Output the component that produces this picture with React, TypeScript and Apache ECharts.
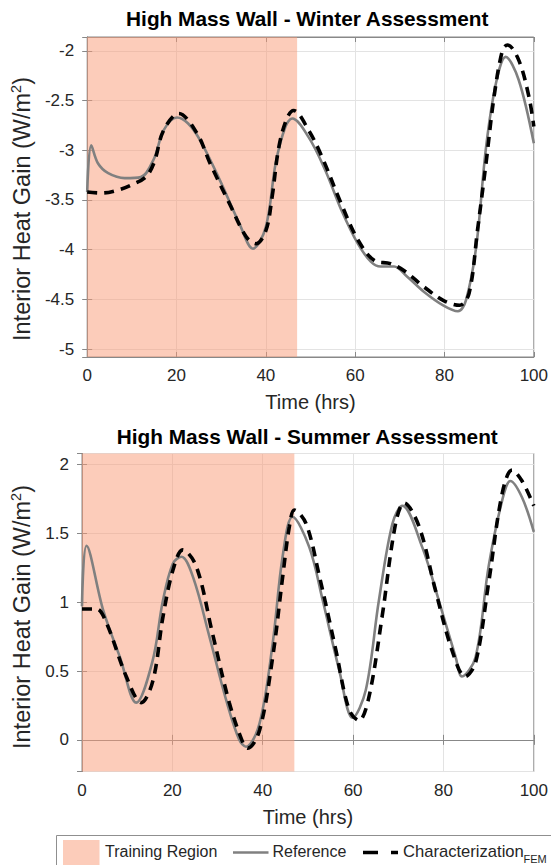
import React, { useEffect, useRef } from "react";
import * as echarts from "echarts";

// ---- Data ----
const winterRefX = [0, 0.9, 2.4, 4.7, 8.4, 12, 15, 17.1, 20.1, 22.6, 25.3, 29.7, 34.1, 37.1, 40, 42.2, 44.4, 45.9, 49.6, 53.3, 56.9, 60.6, 63.5, 65.7, 68.7, 71.6, 75.3, 79.7, 83, 84.8, 87.1, 89.3, 91.5, 93.7, 96.6, 100];
const winterRefY = [-3.42, -2.95, -3.13, -3.23, -3.28, -3.27, -3.08, -2.8, -2.67, -2.73, -2.9, -3.3, -3.74, -3.99, -3.77, -3.13, -2.76, -2.68, -2.87, -3.2, -3.6, -3.94, -4.12, -4.17, -4.17, -4.27, -4.42, -4.56, -4.62, -4.51, -3.97, -2.97, -2.33, -2.06, -2.29, -2.93];

const winterFemX = [0, 3.2, 6.9, 9.8, 13.1, 15, 17.1, 20.5, 24.6, 27.5, 31.9, 35.6, 37.8, 40, 41.4, 42.9, 44.7, 46.2, 49.6, 52.6, 56.9, 60.6, 64.3, 67.9, 70.9, 75.3, 79.7, 83.4, 85.5, 87.4, 89.3, 91.1, 93, 94.1, 96.6, 98.9, 100];
const winterFemY = [-3.42, -3.43, -3.4, -3.35, -3.27, -3.12, -2.8, -2.63, -2.83, -3.13, -3.54, -3.87, -3.94, -3.81, -3.47, -2.97, -2.68, -2.6, -2.8, -3.07, -3.54, -3.9, -4.11, -4.14, -4.21, -4.37, -4.51, -4.56, -4.44, -3.8, -3.13, -2.46, -1.99, -1.94, -2.09, -2.46, -2.76];

const summerRefX = [0, 1.0, 4.7, 8.4, 12, 15.6, 17.9, 20.1, 22, 24.6, 28.2, 31.9, 34.8, 36.3, 39.3, 42.2, 44.4, 46.6, 50.3, 53.3, 56.9, 59.9, 62.8, 65.7, 68.7, 70.9, 75.3, 79, 82.7, 84.1, 87.1, 90, 93, 94.8, 97.4, 100];
const summerRefY = [0.97, 1.41, 0.94, 0.6, 0.27, 0.57, 1.01, 1.28, 1.33, 1.18, 0.75, 0.29, 0.0, -0.05, 0.12, 0.7, 1.33, 1.62, 1.4, 1.01, 0.51, 0.16, 0.36, 1.01, 1.57, 1.7, 1.4, 1.01, 0.6, 0.46, 0.6, 1.26, 1.74, 1.88, 1.76, 1.51];

const summerFemX = [0, 3.2, 5.4, 9.8, 13.1, 15.7, 17.9, 20.1, 22.3, 25.3, 28.9, 32.6, 35.6, 36.7, 39.3, 42.2, 44.4, 45.9, 47, 49.6, 52.6, 56.2, 59.1, 61.3, 63.5, 66.4, 69.4, 71.3, 74.6, 78.2, 81.9, 84.8, 87.1, 90, 93, 95.2, 97.4, 100];
const summerFemY = [0.95, 0.95, 0.85, 0.46, 0.27, 0.43, 0.89, 1.23, 1.38, 1.26, 0.77, 0.27, -0.02, -0.06, 0.07, 0.6, 1.18, 1.55, 1.67, 1.57, 1.18, 0.65, 0.22, 0.14, 0.31, 0.89, 1.57, 1.72, 1.55, 1.09, 0.65, 0.46, 0.56, 1.14, 1.79, 1.96, 1.88, 1.7];

const trainingRegion = [0, 47];
const xRange = [0, 100];
const xInterval = 20;
const winterYRange = [-5.08, -1.86];
const summerYRange = [-0.23, 2.08];

const titles = ["High Mass Wall - Winter Assessment", "High Mass Wall - Summer Assessment"];
const xName = "Time (hrs)";
const legendLabels = ["Training Region", "Reference", "Characterization", "FEM"];

const pairs = (xs: number[], ys: number[]) => xs.map((x, i) => [x, ys[i]]);

const FONT = '"Liberation Sans", Arial, Helvetica, sans-serif';
const AXIS_COLOR = "#888888";
const TEXT_COLOR = "#262626";
const GRID_COLOR = "#e3e3e3";
const REF_COLOR = "#808080";
const FEM_COLOR = "#000000";
const PATCH_COLOR = "rgba(249,153,117,0.5)";

const GRID_LEFT = 82;
const GRID_WIDTH = 453.5;
const GRIDS = [
  { top: 37, height: 320, nameShift: 24 },
  { top: 453.5, height: 318, nameShift: 9 },
];

export default function App() {
  const ref = useRef<HTMLDivElement>(null);

  useEffect(() => {
    if (!ref.current) return;
    const chart = echarts.init(ref.current, undefined, { renderer: "svg" });

    const yRanges = [winterYRange, summerYRange];
    const refData = [pairs(winterRefX, winterRefY), pairs(summerRefX, summerRefY)];
    const femData = [pairs(winterFemX, winterFemY), pairs(summerFemX, summerFemY)];

    const xAxes: any[] = [];
    const yAxes: any[] = [];
    const series: any[] = [];
    GRIDS.forEach((g, i) => {
      xAxes.push({
        type: "value",
        gridIndex: i,
        min: xRange[0],
        max: xRange[1],
        interval: xInterval,
        position: "bottom",
        axisLine: { show: true, lineStyle: { color: AXIS_COLOR, width: 1 } },
        axisTick: { show: true, inside: true, length: 5, lineStyle: { color: AXIS_COLOR } },
        axisLabel: { fontSize: 17, color: TEXT_COLOR, fontFamily: FONT, margin: 10 },
        splitLine: { show: true, lineStyle: { color: GRID_COLOR, width: 1 } },
        name: xName,
        nameLocation: "middle",
        nameGap: 35,
        nameTextStyle: { fontSize: 20, color: TEXT_COLOR, fontFamily: FONT },
      });
      xAxes.push({
        type: "value",
        gridIndex: i,
        min: xRange[0],
        max: xRange[1],
        interval: xInterval,
        position: "top",
        axisLine: { show: true, lineStyle: { color: AXIS_COLOR, width: 1 } },
        axisTick: { show: true, inside: true, length: 5, lineStyle: { color: AXIS_COLOR } },
        axisLabel: { show: false },
        splitLine: { show: false },
      });
      yAxes.push({
        type: "value",
        gridIndex: i,
        min: yRanges[i][0],
        max: yRanges[i][1],
        position: "left",
        axisLine: { show: true, lineStyle: { color: AXIS_COLOR, width: 1 } },
        axisTick: { show: true, inside: true, length: 5, lineStyle: { color: AXIS_COLOR } },
        axisLabel: {
          fontSize: 17,
          color: TEXT_COLOR,
          fontFamily: FONT,
          margin: 13,
          showMinLabel: false,
          showMaxLabel: false,
        },
        splitLine: { show: true, lineStyle: { color: GRID_COLOR, width: 1 } },
        name: "{a|Interior Heat Gain (W/m}{b|2}{a|)}",
        nameLocation: "middle",
        nameGap: 32,
        nameTextStyle: {
          color: TEXT_COLOR,
          fontFamily: FONT,
          padding: [0, g.nameShift, 0, 0],
          rich: {
            a: { fontSize: 23.5, lineHeight: 28, color: TEXT_COLOR, fontFamily: FONT },
            b: { fontSize: 14.5, lineHeight: 14, verticalAlign: "top", color: TEXT_COLOR, fontFamily: FONT },
          },
        },
      });
      yAxes.push({
        type: "value",
        gridIndex: i,
        min: yRanges[i][0],
        max: yRanges[i][1],
        position: "right",
        axisLine: { show: true, lineStyle: { color: AXIS_COLOR, width: 1 } },
        axisTick: { show: true, inside: true, length: 5, lineStyle: { color: AXIS_COLOR } },
        axisLabel: { show: false },
        splitLine: { show: false },
      });

      series.push({
        type: "line",
        name: legendLabels[1],
        xAxisIndex: i * 2,
        yAxisIndex: i * 2,
        data: refData[i],
        showSymbol: false,
        smooth: 0.35,
        lineStyle: { color: REF_COLOR, width: 2.6 },
        itemStyle: { color: REF_COLOR },
        z: 3,
        markArea: {
          silent: true,
          itemStyle: { color: PATCH_COLOR },
          label: { show: false },
          data: [[{ xAxis: trainingRegion[0] }, { xAxis: trainingRegion[1] }]],
        },
      });
      series.push({
        type: "line",
        name: legendLabels[2],
        xAxisIndex: i * 2,
        yAxisIndex: i * 2,
        data: femData[i],
        showSymbol: false,
        smooth: 0.35,
        lineStyle: { color: FEM_COLOR, width: 3.6, type: [10, 7] },
        itemStyle: { color: FEM_COLOR },
        z: 4,
      });
    });

    const legendY = 851;
    const textStyle = (text: string, size: number) => ({
      text,
      fill: TEXT_COLOR,
      font: `${size}px ${FONT}`,
      textVerticalAlign: "middle",
      verticalAlign: "middle",
    });
    const graphic: any[] = [
      ...titles.map((t, i) => ({
        type: "text",
        x: GRID_LEFT + GRID_WIDTH / 2 - 1.5,
        y: i === 0 ? 18 : 436,
        style: {
          text: t,
          fill: "#000",
          font: `bold 20.8px ${FONT}`,
          textAlign: "center",
          textVerticalAlign: "middle",
          align: "center",
          verticalAlign: "middle",
        },
      })),
      {
        type: "rect",
        shape: { x: 56.5, y: 835.5, width: 520, height: 60 },
        style: { fill: "#fff", stroke: "#8f8f8f", lineWidth: 1 },
      },
      {
        type: "rect",
        shape: { x: 63, y: 840, width: 36.5, height: 30 },
        style: { fill: PATCH_COLOR },
      },
      { type: "text", x: 105, y: legendY, style: textStyle(legendLabels[0], 16) },
      {
        type: "line",
        shape: { x1: 233, y1: 852.5, x2: 268.5, y2: 852.5 },
        style: { stroke: REF_COLOR, lineWidth: 2.6 },
      },
      { type: "text", x: 272.5, y: legendY, style: textStyle(legendLabels[1], 16) },
      {
        type: "line",
        shape: { x1: 363, y1: 852.5, x2: 398, y2: 852.5 },
        style: { stroke: FEM_COLOR, lineWidth: 3.6, lineDash: [15, 13] },
      },
      { type: "text", x: 403, y: legendY, style: textStyle(legendLabels[2], 16.6) },
      { type: "text", x: 523.5, y: 858.5, style: textStyle(legendLabels[3], 11) },
    ];

    chart.setOption({
      animation: false,
      backgroundColor: "#ffffff",
      textStyle: { fontFamily: FONT },
      grid: GRIDS.map((g) => ({
        show: true,
        borderColor: AXIS_COLOR,
        borderWidth: 1,
        backgroundColor: "transparent",
        left: GRID_LEFT,
        top: g.top,
        width: GRID_WIDTH,
        height: g.height,
        containLabel: false,
      })),
      xAxis: xAxes,
      yAxis: yAxes,
      series,
      graphic,
    });

    return () => {
      chart.dispose();
    };
  }, []);

  return (
    <div
      ref={ref}
      style={{ position: "absolute", left: 0, top: 0, width: 551, height: 865, background: "#fff" }}
    />
  );
}
